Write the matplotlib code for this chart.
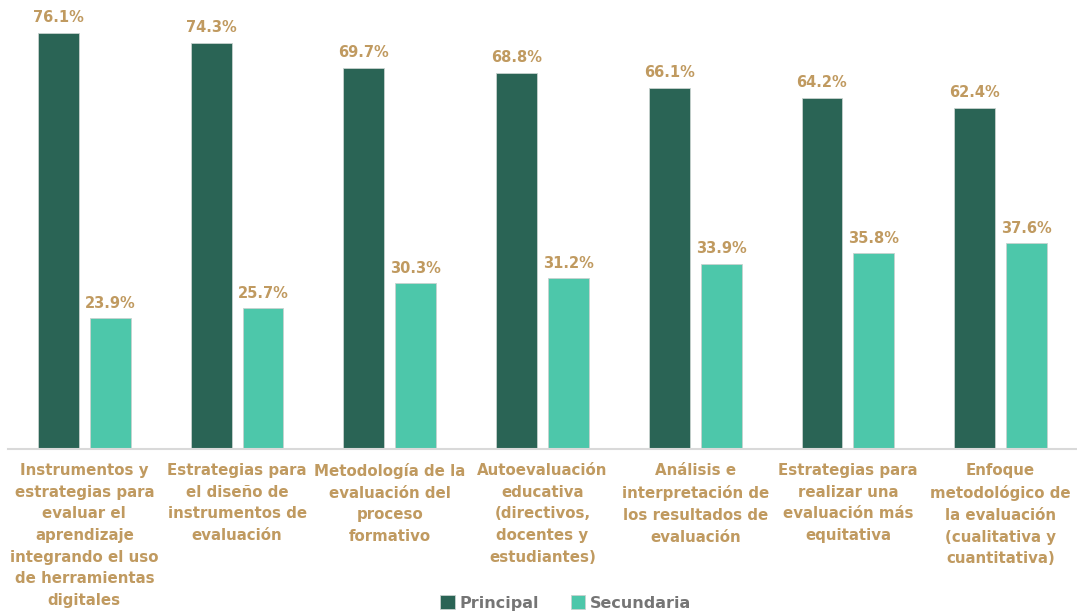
import matplotlib.pyplot as plt
import numpy as np

# --- Data ---
categories = [
    "Instrumentos y\nestrategias para\nevaluar el\naprendizaje\nintegrando el uso\nde herramientas\ndigitales",
    "Estrategias para\nel diseño de\ninstrumentos de\nevaluación",
    "Metodología de la\nevaluación del\nproceso\nformativo",
    "Autoevaluación\neducativa\n(directivos,\ndocentes y\nestudiantes)",
    "Análisis e\ninterpretación de\nlos resultados de\nevaluación",
    "Estrategias para\nrealizar una\nevaluación más\nequitativa",
    "Enfoque\nmetodológico de\nla evaluación\n(cualitativa y\ncuantitativa)",
]
principal = [76.1, 74.3, 69.7, 68.8, 66.1, 64.2, 62.4]
secundaria = [23.9, 25.7, 30.3, 31.2, 33.9, 35.8, 37.6]

# --- Styles ---
col_principal = '#2a6455'
col_secundaria = '#4dc7aa'
col_label = '#c09a60'
col_legend = '#757575'
bar_w = 0.268
offset = 0.34

fig = plt.figure(figsize=(10.77, 6.13), dpi=100)
ax = fig.add_axes([8 / 1077, 1 - 449 / 613, 1 - 8 / 1077, (449 - 5) / 613])

x = np.arange(len(categories))
b1 = ax.bar(x - offset / 2, principal, bar_w, color=col_principal,
            edgecolor='#c8d2cf', linewidth=0.6, label='Principal')
b2 = ax.bar(x + offset / 2, secundaria, bar_w, color=col_secundaria,
            edgecolor='#c8d2cf', linewidth=0.6, label='Secundaria')

for bars, vals in [(b1, principal), (b2, secundaria)]:
    for rect, v in zip(bars, vals):
        ax.text(rect.get_x() + rect.get_width() / 2, v + 1.4, f'{v:.1f}%',
                ha='center', va='bottom', fontsize=10.5, fontweight='bold',
                color=col_label)

ax.set_xlim(-0.5, len(categories) - 0.5)
ax.set_ylim(0, 81.2)
ax.set_yticks([])
ax.set_xticks(x)
ax.set_xticklabels(categories, fontsize=10.8, fontweight='bold', color=col_label,
                   linespacing=1.56)
ax.tick_params(axis='x', length=0, pad=10)
for s in ['top', 'right', 'left']:
    ax.spines[s].set_visible(False)
ax.spines['bottom'].set_color('#d9d9d9')
ax.spines['bottom'].set_linewidth(1.5)

leg = fig.legend(handles=[b1, b2], loc='center', bbox_to_anchor=(566 / 1077, 1 - 603 / 613),
                 ncol=2, frameon=False, handlelength=0.9, handleheight=0.9,
                 handletextpad=0.3, columnspacing=2.0,
                 prop={'weight': 'bold', 'size': 11.5})
for t in leg.get_texts():
    t.set_color(col_legend)

fig.savefig('out.png', dpi=100)
